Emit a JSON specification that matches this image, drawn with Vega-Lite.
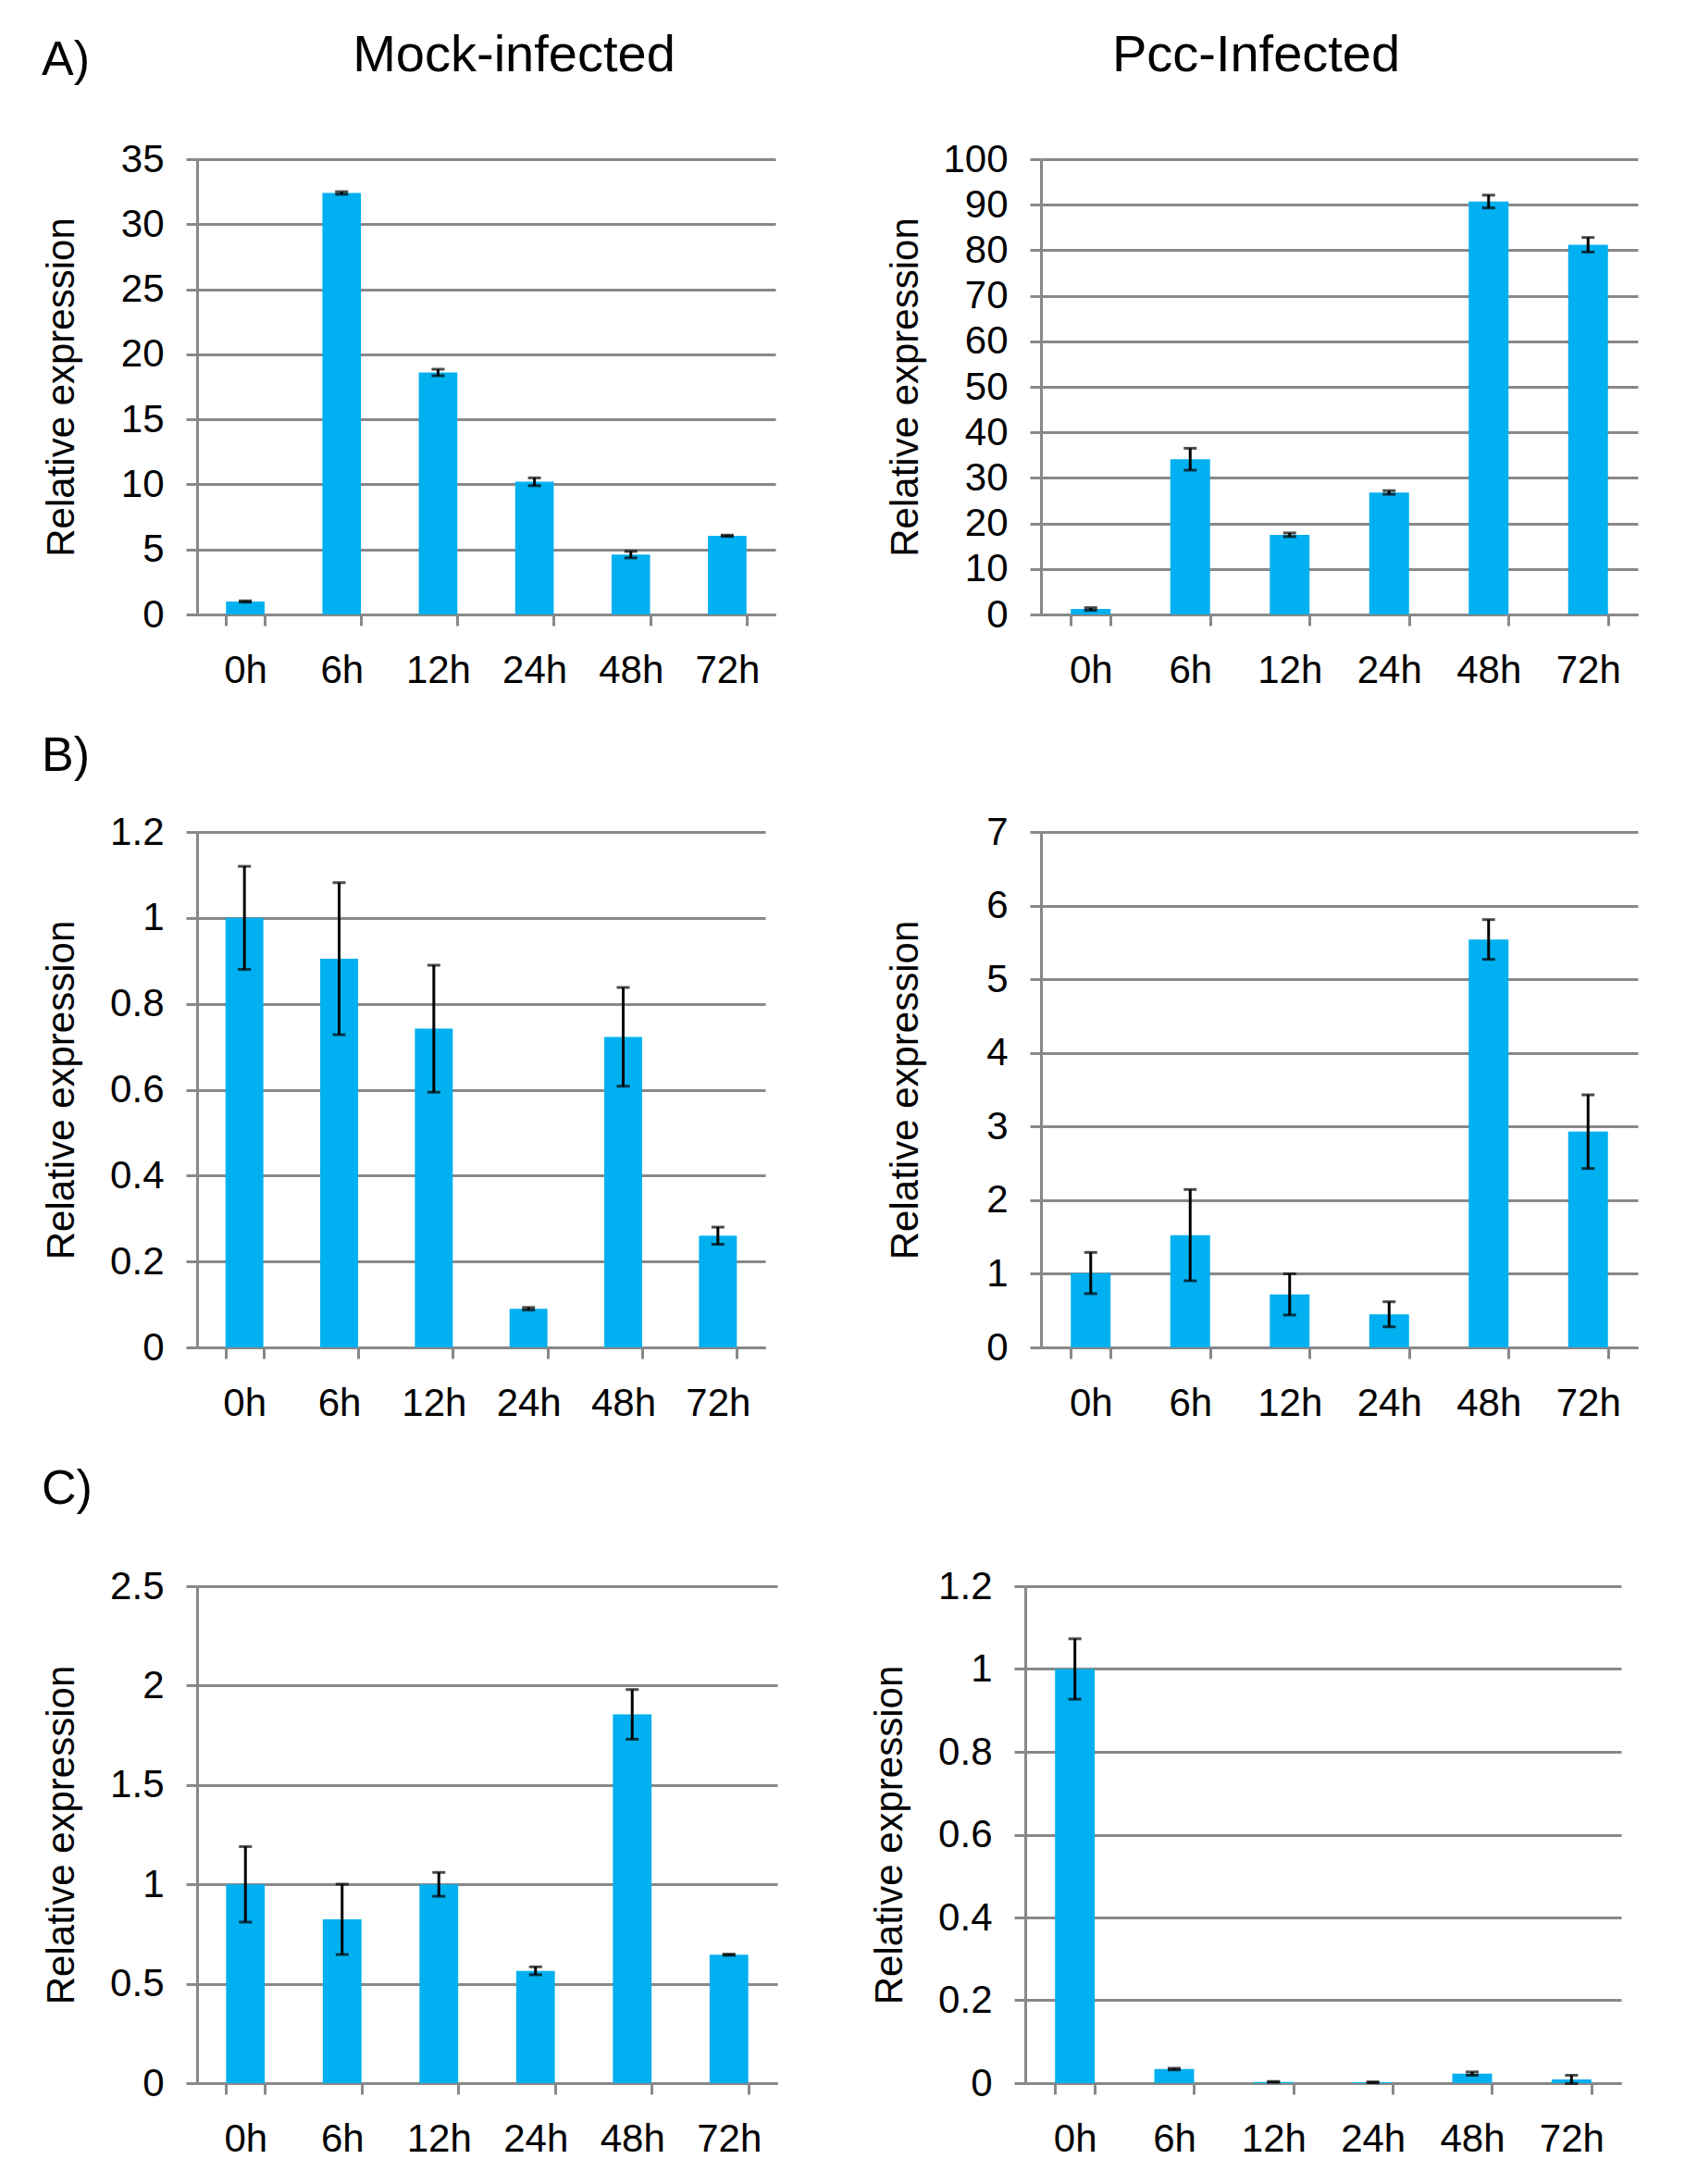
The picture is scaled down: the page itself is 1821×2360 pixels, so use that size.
{
  "$schema": "https://vega.github.io/schema/vega-lite/v6.json",
  "background": "white",
  "padding": {"left": 45, "top": 32, "right": 10, "bottom": 10},
  "datasets": {
    "A_mock": [
      {"time": "0h", "value": 1.0, "err": 0.05},
      {"time": "6h", "value": 32.4, "err": 0.1},
      {"time": "12h", "value": 18.6, "err": 0.25},
      {"time": "24h", "value": 10.2, "err": 0.3},
      {"time": "48h", "value": 4.6, "err": 0.25},
      {"time": "72h", "value": 6.05, "err": 0.05}
    ],
    "A_pcc": [
      {"time": "0h", "value": 1.2, "err": 0.3},
      {"time": "6h", "value": 34.1, "err": 2.4},
      {"time": "12h", "value": 17.5, "err": 0.4},
      {"time": "24h", "value": 26.8, "err": 0.4},
      {"time": "48h", "value": 90.7, "err": 1.4},
      {"time": "72h", "value": 81.2, "err": 1.6}
    ],
    "B_mock": [
      {"time": "0h", "value": 1.0, "err": 0.12},
      {"time": "6h", "value": 0.905, "err": 0.177},
      {"time": "12h", "value": 0.742, "err": 0.148},
      {"time": "24h", "value": 0.09, "err": 0.003},
      {"time": "48h", "value": 0.723, "err": 0.115},
      {"time": "72h", "value": 0.26, "err": 0.02}
    ],
    "B_pcc": [
      {"time": "0h", "value": 1.01, "err": 0.28},
      {"time": "6h", "value": 1.525, "err": 0.62},
      {"time": "12h", "value": 0.72, "err": 0.28},
      {"time": "24h", "value": 0.45, "err": 0.17},
      {"time": "48h", "value": 5.54, "err": 0.27},
      {"time": "72h", "value": 2.93, "err": 0.5}
    ],
    "C_mock": [
      {"time": "0h", "value": 1.0, "err": 0.19},
      {"time": "6h", "value": 0.824, "err": 0.177},
      {"time": "12h", "value": 1.0, "err": 0.06},
      {"time": "24h", "value": 0.565, "err": 0.02},
      {"time": "48h", "value": 1.855, "err": 0.125},
      {"time": "72h", "value": 0.646, "err": 0.003}
    ],
    "C_pcc": [
      {"time": "0h", "value": 1.0, "err": 0.073},
      {"time": "6h", "value": 0.034, "err": 0.002},
      {"time": "12h", "value": 0.003, "err": 0.001},
      {"time": "24h", "value": 0.002, "err": 0.001},
      {"time": "48h", "value": 0.023, "err": 0.004},
      {"time": "72h", "value": 0.009, "err": 0.01}
    ]
  },
  "vconcat": [
    {
      "title": {"text": "A)", "anchor": "start", "offset": -60, "fontSize": 52},
      "spacing": 119,
      "hconcat": [
        {
          "width": 625, "height": 492,
          "title": {"text": "Mock-infected", "dx": 30, "offset": 62},
          "data": {"name": "A_mock"},
          "encoding": {
            "x": {"field": "time", "type": "nominal", "sort": ["0h","6h","12h","24h","48h","72h"], "scale": {"paddingInner": 0.6, "paddingOuter": 0.3}},
            "y": {"field": "value", "type": "quantitative", "scale": {"domain": [0, 35]}, "axis": {"title": "Relative expression", "values": [0,5,10,15,20,25,30,35]}}
          },
          "layer": [
            {"mark": {"type": "bar", "color": "#00B0F0"}},
            {"mark": {"type": "errorbar", "ticks": true, "color": "black", "thickness": 3, "size": 14}, "encoding": {"yError": {"field": "err"}}}
          ]
        },
        {
          "width": 645, "height": 492,
          "title": {"text": "Pcc-Infected", "dx": -90, "offset": 62},
          "data": {"name": "A_pcc"},
          "encoding": {
            "x": {"field": "time", "type": "nominal", "sort": ["0h","6h","12h","24h","48h","72h"], "scale": {"paddingInner": 0.6, "paddingOuter": 0.3}},
            "y": {"field": "value", "type": "quantitative", "scale": {"domain": [0, 100]}, "axis": {"title": "Relative expression", "values": [0,10,20,30,40,50,60,70,80,90,100]}}
          },
          "layer": [
            {"mark": {"type": "bar", "color": "#00B0F0"}},
            {"mark": {"type": "errorbar", "ticks": true, "color": "black", "thickness": 3, "size": 14}, "encoding": {"yError": {"field": "err"}}}
          ]
        }
      ]
    },
    {
      "title": {"text": "B)", "anchor": "start", "offset": 34, "fontSize": 52},
      "spacing": 130,
      "hconcat": [
        {
          "width": 614, "height": 557,
          "data": {"name": "B_mock"},
          "encoding": {
            "x": {"field": "time", "type": "nominal", "sort": ["0h","6h","12h","24h","48h","72h"], "scale": {"paddingInner": 0.6, "paddingOuter": 0.3}},
            "y": {"field": "value", "type": "quantitative", "scale": {"domain": [0, 1.2]}, "axis": {"title": "Relative expression", "values": [0,0.2,0.4,0.6,0.8,1,1.2]}}
          },
          "layer": [
            {"mark": {"type": "bar", "color": "#00B0F0"}},
            {"mark": {"type": "errorbar", "ticks": true, "color": "black", "thickness": 3, "size": 14}, "encoding": {"yError": {"field": "err"}}}
          ]
        },
        {
          "width": 645, "height": 557,
          "data": {"name": "B_pcc"},
          "encoding": {
            "x": {"field": "time", "type": "nominal", "sort": ["0h","6h","12h","24h","48h","72h"], "scale": {"paddingInner": 0.6, "paddingOuter": 0.3}},
            "y": {"field": "value", "type": "quantitative", "scale": {"domain": [0, 7]}, "axis": {"title": "Relative expression", "values": [0,1,2,3,4,5,6,7]}}
          },
          "layer": [
            {"mark": {"type": "bar", "color": "#00B0F0"}},
            {"mark": {"type": "errorbar", "ticks": true, "color": "black", "thickness": 3, "size": 14}, "encoding": {"yError": {"field": "err"}}}
          ]
        }
      ]
    },
    {
      "title": {"text": "C)", "anchor": "start", "offset": 57, "fontSize": 52},
      "spacing": 100,
      "hconcat": [
        {
          "width": 627, "height": 537,
          "data": {"name": "C_mock"},
          "encoding": {
            "x": {"field": "time", "type": "nominal", "sort": ["0h","6h","12h","24h","48h","72h"], "scale": {"paddingInner": 0.6, "paddingOuter": 0.3}},
            "y": {"field": "value", "type": "quantitative", "scale": {"domain": [0, 2.5]}, "axis": {"title": "Relative expression", "values": [0,0.5,1,1.5,2,2.5]}}
          },
          "layer": [
            {"mark": {"type": "bar", "color": "#00B0F0"}},
            {"mark": {"type": "errorbar", "ticks": true, "color": "black", "thickness": 3, "size": 14}, "encoding": {"yError": {"field": "err"}}}
          ]
        },
        {
          "width": 644, "height": 537,
          "data": {"name": "C_pcc"},
          "encoding": {
            "x": {"field": "time", "type": "nominal", "sort": ["0h","6h","12h","24h","48h","72h"], "scale": {"paddingInner": 0.6, "paddingOuter": 0.3}},
            "y": {"field": "value", "type": "quantitative", "scale": {"domain": [0, 1.2]}, "axis": {"title": "Relative expression", "values": [0,0.2,0.4,0.6,0.8,1,1.2]}}
          },
          "layer": [
            {"mark": {"type": "bar", "color": "#00B0F0"}},
            {"mark": {"type": "errorbar", "ticks": true, "color": "black", "thickness": 3, "size": 14}, "encoding": {"yError": {"field": "err"}}}
          ]
        }
      ]
    }
  ],
  "spacing": 46,
  "config": {
    "view": {"stroke": null},
    "font": "Liberation Sans",
    "title": {"font": "Liberation Sans", "fontSize": 56, "fontWeight": "normal", "color": "black"},
    "axis": {
      "labelFont": "Liberation Sans", "labelFontSize": 42, "labelColor": "black",
      "titleFont": "Liberation Sans", "titleFontSize": 42, "titleFontWeight": "normal", "titleColor": "black",
      "domainColor": "#888888", "domainWidth": 3,
      "tickColor": "#888888", "tickWidth": 3, "tickSize": 12,
      "gridColor": "#888888", "gridWidth": 3
    },
    "axisY": {
      "grid": true, "labelPadding": 24, "titlePadding": 40, "minExtent": 85, "maxExtent": 85,
      "labelExpr": "'' + datum.value"
    },
    "axisX": {
      "title": null, "grid": false, "labelAngle": 0, "tickBand": "extent", "labelPadding": 28, "labelBaseline": "top"
    }
  }
}
